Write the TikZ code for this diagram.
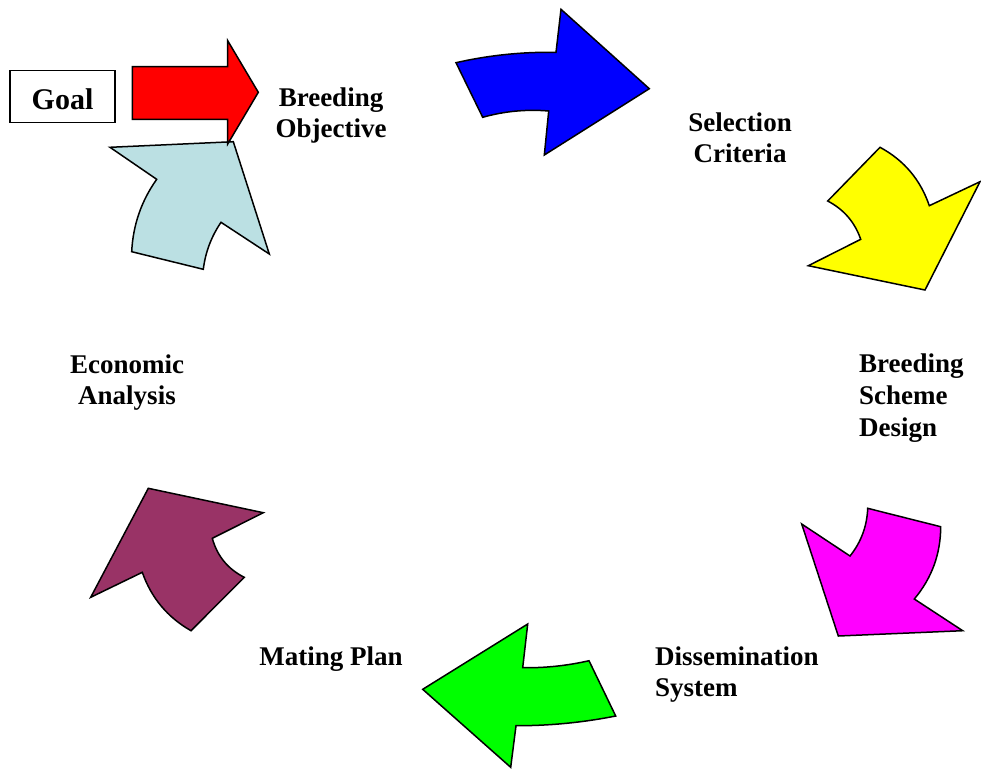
\documentclass[tikz,border=0pt]{standalone}
\usepackage{fontspec}
\setmainfont{Liberation Serif}
\definecolor{arrred}{RGB}{255,0,0}
\definecolor{arrblue}{RGB}{0,0,255}
\definecolor{arryellow}{RGB}{255,255,0}
\definecolor{arrmagenta}{RGB}{255,0,255}
\definecolor{arrgreen}{RGB}{0,255,0}
\definecolor{arrmaroon}{RGB}{153,51,102}
\definecolor{arrlight}{RGB}{187,224,227}
\tikzset{
  blockarrow/.style={draw=black, line width=1.5pt, line join=miter},
  stage/.style={font=\fontsize{27}{31}\selectfont\bfseries, align=center, inner sep=0pt},
  stageleft/.style={stage, align=left, anchor=west},
  goalframe/.style={draw=black, line width=1.2pt, minimum width=105pt, minimum height=52pt,
    inner sep=0pt},
  goaltext/.style={font=\fontsize{30}{34}\selectfont\bfseries, inner sep=0pt}
}
\begin{document}
\begin{tikzpicture}[x=1pt, y=-1pt]
\useasboundingbox (0,0) rectangle (981,769);

% Goal box
\node[goalframe] (goalbox) at (62.5,96.2) {};
\node[goaltext] (goal) at (62.5,99.5) {Goal};

% light blue curved arrow (Economic Analysis -> Breeding Objective)
\draw[blockarrow, fill=arrlight]
  (110,147.3) -- (233.3,141.7) -- (269.3,254) -- (221,222.3)
  .. controls (211.3,236.6) and (205.4,252.2) .. (203.3,269.3)
  -- (131.7,251.7)
  .. controls (133.0,225.1) and (141.3,201.0) .. (156.7,179.3) -- cycle;

% red straight arrow (Goal -> Breeding Objective)
\draw[blockarrow, fill=arrred]
  (132.3,66.7) -- (227.7,66.7) -- (227.7,40.7) -- (258.3,92.3)
  -- (227.7,144) -- (227.7,119.3) -- (132.3,119.3) -- cycle;

% blue curved arrow
\draw[blockarrow, fill=arrblue]
  (456,62.7) .. controls (488.9,55.2) and (522.3,51.8) .. (556,52.3)
  -- (561,9.3) -- (649.3,88.7) -- (544.3,155) -- (548.7,111)
  .. controls (526.3,109.1) and (504.3,111.2) .. (482.7,117.3) -- cycle;

% yellow curved arrow
\draw[blockarrow, fill=arryellow]
  (880,147.3) .. controls (904.1,160.3) and (920.5,179.8) .. (929.3,205.7)
  -- (980,181.7) -- (925,290) -- (808.3,265.7) -- (860.7,239.3)
  .. controls (854.8,222.2) and (843.8,209.4) .. (827.7,201) -- cycle;

% magenta curved arrow
\draw[blockarrow, fill=arrmagenta]
  (867.7,508.3) -- (940.7,526.7)
  .. controls (940.6,554.0) and (931.8,578.1) .. (914.3,599)
  -- (962.7,630.7) -- (838.3,636) -- (801.7,524) -- (850,556)
  .. controls (861.1,542.1) and (867.0,526.2) .. (867.7,508.3) -- cycle;

% green curved arrow
\draw[blockarrow, fill=arrgreen]
  (527.7,624) -- (522.7,667.7)
  .. controls (545.1,668.0) and (567.2,665.7) .. (589,660.7)
  -- (615.7,716)
  .. controls (582.8,722.5) and (549.5,725.8) .. (516,725.7)
  -- (510.7,767.3) -- (422.7,689.3) -- cycle;

% maroon curved arrow
\draw[blockarrow, fill=arrmaroon]
  (148.3,488.3) -- (263.3,512.7) -- (212.3,538.3)
  .. controls (217.2,556.0) and (227.8,569.0) .. (244.3,577.3)
  -- (191,630.7)
  .. controls (167.5,617.3) and (151.2,597.8) .. (142.3,572.3)
  -- (90.7,597.3) -- cycle;

% stage labels
\node[stage] (objective) at (331,115.5) {Breeding\\Objective};
\node[stage] (criteria) at (740,138) {Selection\\Criteria};
\node[stageleft, font=\fontsize{27}{32}\selectfont\bfseries] (scheme) at (859,398.5) {Breeding\\Scheme\\Design};
\node[stageleft] (dissemination) at (655,674.5) {Dissemination\\System};
\node[stage] (mating) at (331,659.5) {Mating Plan};
\node[stage] (economic) at (127,382.5) {Economic\\Analysis};
\end{tikzpicture}
\end{document}
